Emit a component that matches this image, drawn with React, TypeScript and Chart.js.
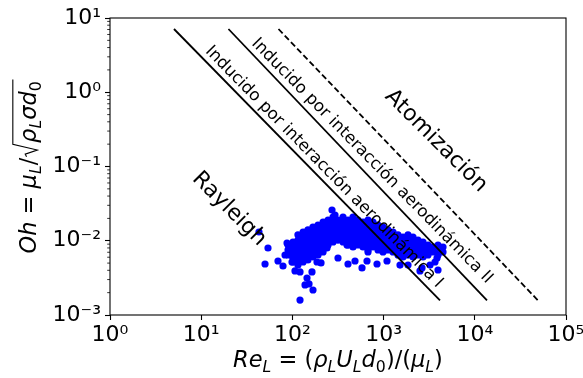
import React, { useEffect, useRef } from "react";
import { Chart, registerables } from "chart.js";

Chart.register(...registerables);

const FONT = '"DejaVu Sans", sans-serif';

// Axis ranges and tick values
const xRange = [1, 100000];
const yRange = [0.001, 10];
const xMajorTicks = [1, 10, 100, 1000, 10000, 100000];
const yMajorTicks = [0.001, 0.01, 0.1, 1, 10];
const yMinorTicks = [
  0.002, 0.003, 0.004, 0.005, 0.006, 0.007, 0.008, 0.009,
  0.02, 0.03, 0.04, 0.05, 0.06, 0.07, 0.08, 0.09,
  0.2, 0.3, 0.4, 0.5, 0.6, 0.7, 0.8, 0.9,
  2, 3, 4, 5, 6, 7, 8, 9,
];

// Regime boundary lines (Re, Oh endpoints)
const boundaryIRe = [5.03, 4153];
const boundaryIOh = [7.11, 0.00157];
const boundaryIIRe = [19.9, 13610];
const boundaryIIOh = [7.11, 0.00157];
const atomizationRe = [70.4, 49320];
const atomizationOh = [7.11, 0.00157];

// Measured droplets: [Re_L, Oh]
const dropletPoints: [number, number][] = [
  // dense core
  [89.5, 0.00876], [89.5, 0.00751], [89.5, 0.00643],
  [101.5, 0.00962], [101.5, 0.00824], [101.5, 0.00706], [101.5, 0.00604], [101.5, 0.00517],
  [115, 0.012], [115, 0.0102], [115, 0.00876], [115, 0.00751], [115, 0.00643], [115, 0.00551], [115, 0.00471],
  [131, 0.0131], [131, 0.0112], [131, 0.00962], [131, 0.00824], [131, 0.00706], [131, 0.00604], [131, 0.00517],
  [148, 0.014], [148, 0.012], [148, 0.0102], [148, 0.00876], [148, 0.00751], [148, 0.00643], [148, 0.00551],
  [168, 0.0153], [168, 0.0131], [168, 0.0112], [168, 0.00962], [168, 0.00824], [168, 0.00706], [168, 0.00604],
  [191, 0.0163], [191, 0.014], [191, 0.012], [191, 0.0102], [191, 0.00876], [191, 0.00751], [191, 0.00643],
  [217, 0.0179], [217, 0.0153], [217, 0.0131], [217, 0.0112], [217, 0.00962], [217, 0.00824], [217, 0.00706],
  [246, 0.019], [246, 0.0163], [246, 0.014], [246, 0.012], [246, 0.0102], [246, 0.00876],
  [279, 0.0209], [279, 0.0179], [279, 0.0153], [279, 0.0131], [279, 0.0112], [279, 0.00962],
  [316, 0.019], [316, 0.0163], [316, 0.014], [316, 0.012], [316, 0.0102],
  [359, 0.0209], [359, 0.0179], [359, 0.0153], [359, 0.0131], [359, 0.0112], [359, 0.00962],
  [407, 0.019], [407, 0.0163], [407, 0.014], [407, 0.012], [407, 0.0102], [407, 0.00876],
  [462, 0.0209], [462, 0.0179], [462, 0.0153], [462, 0.0131], [462, 0.0112], [462, 0.00962], [462, 0.00824],
  [524, 0.019], [524, 0.0163], [524, 0.014], [524, 0.012], [524, 0.0102], [524, 0.00876],
  [595, 0.0179], [595, 0.0153], [595, 0.0131], [595, 0.0112], [595, 0.00962], [595, 0.00824],
  [675, 0.019], [675, 0.0163], [675, 0.014], [675, 0.012], [675, 0.0102], [675, 0.00876], [675, 0.00751],
  [765, 0.0179], [765, 0.0153], [765, 0.0131], [765, 0.0112], [765, 0.00962], [765, 0.00824],
  [868, 0.0163], [868, 0.014], [868, 0.012], [868, 0.0102], [868, 0.00876], [868, 0.00751],
  [985, 0.0153], [985, 0.0131], [985, 0.0112], [985, 0.00962], [985, 0.00824], [985, 0.00706],
  [1117, 0.014], [1117, 0.012], [1117, 0.0102], [1117, 0.00876], [1117, 0.00751],
  [1268, 0.0131], [1268, 0.0112], [1268, 0.00962], [1268, 0.00824], [1268, 0.00706],
  [1439, 0.012], [1439, 0.0102], [1439, 0.00876], [1439, 0.00751], [1439, 0.00643],
  [1632, 0.0112], [1632, 0.00962], [1632, 0.00824], [1632, 0.00706], [1632, 0.00604],
  [1852, 0.012], [1852, 0.0102], [1852, 0.00876], [1852, 0.00751], [1852, 0.00643],
  [2101, 0.0112], [2101, 0.00962], [2101, 0.00824], [2101, 0.00706], [2101, 0.00604],
  [2384, 0.0102], [2384, 0.00876], [2384, 0.00751], [2384, 0.00643],
  [2704, 0.00962], [2704, 0.00824], [2704, 0.00706], [2704, 0.00604],
  [3068, 0.00876], [3068, 0.00751], [3068, 0.00643],
  [3481, 0.00824], [3481, 0.00706],
  [3950, 0.00876], [3950, 0.00751], [3950, 0.00643],
  [4481, 0.00824], [4481, 0.00706],
  // scattered droplets
  [43.0, 0.01312], [54.0, 0.00799], [50.1, 0.00486], [69.5, 0.00534], [78.9, 0.00457],
  [87.3, 0.00932], [83.0, 0.00643], [101.5, 0.00586], [106.8, 0.00392], [121.2, 0.0038],
  [144.6, 0.00315], [137.5, 0.00254], [152.1, 0.00262], [168.2, 0.00217], [121.2, 0.00159],
  [164.0, 0.0038], [205.9, 0.00502], [239.6, 0.00799], [316.2, 0.00586], [407.1, 0.00486],
  [485.8, 0.00534], [579.8, 0.0043], [657.7, 0.00534], [674.5, 0.00706], [846.6, 0.00486],
  [1089.6, 0.00534], [1513, 0.00471], [1852, 0.00471], [2507, 0.00392], [2637, 0.0043],
  [3227, 0.00471], [3661, 0.00517], [3950, 0.00404], [3851, 0.00586], [271.8, 0.02595],
  [293.2, 0.02222], [396.9, 0.00876], [186.1, 0.00517], [99.0, 0.00517],
];

// Regime labels: text, anchor Re, anchor Oh
const regimeLabels = ["Rayleigh", "Inducido por interacción aerodinámica I", "Inducido por interacción aerodinámica II", "Atomización"];
const regimeLabelRe = [20.2, 222, 746, 3755];
const regimeLabelOh = [0.0268, 0.0985, 0.1186, 0.2205];

type Seg = { t?: string; it?: boolean; sub?: boolean; sqrt?: Seg[] };

const xLabelSegs: Seg[] = [
  { t: "Re", it: true }, { t: "L", it: true, sub: true }, { t: " = " }, { t: "(" },
  { t: "ρ", it: true }, { t: "L", it: true, sub: true }, { t: "U", it: true }, { t: "L", it: true, sub: true },
  { t: "d", it: true }, { t: "0", sub: true }, { t: ")/(" }, { t: "μ", it: true }, { t: "L", it: true, sub: true }, { t: ")" },
];
const yLabelSegs: Seg[] = [
  { t: "Oh", it: true }, { t: " = " }, { t: "μ", it: true }, { t: "L", it: true, sub: true }, { t: "/" },
  { sqrt: [{ t: "ρ", it: true }, { t: "L", it: true, sub: true }, { t: "σ", it: true }, { t: "d", it: true }, { t: "0", sub: true }] },
];

const SUP: Record<string, string> = { "0": "⁰", "1": "¹", "2": "²", "3": "³", "4": "⁴", "5": "⁵", "6": "⁶", "7": "⁷", "8": "⁸", "9": "⁹", "-": "⁻" };
function powLabel(v: number): string {
  const e = Math.round(Math.log10(v));
  return "10" + String(e).split("").map((c) => SUP[c]).join("");
}

function segFont(s: Seg, F: number) {
  const size = s.sub ? F * 0.7 : F;
  return `${s.it ? "italic " : ""}${size}px ${FONT}`;
}
function mWidth(ctx: CanvasRenderingContext2D, segs: Seg[], F: number): number {
  let w = 0;
  for (const s of segs) {
    if (s.sqrt) w += F * 0.66 + mWidth(ctx, s.sqrt, F) + F * 0.08;
    else {
      ctx.font = segFont(s, F);
      w += ctx.measureText(s.t || "").width;
    }
  }
  return w;
}
function mDraw(ctx: CanvasRenderingContext2D, segs: Seg[], F: number, x: number, b: number): number {
  for (const s of segs) {
    if (s.sqrt) {
      const inner = mWidth(ctx, s.sqrt, F);
      const xr = x + F * 0.66;
      const xe = xr + inner + F * 0.08;
      ctx.beginPath();
      ctx.moveTo(x + F * 0.04, b - F * 0.42);
      ctx.lineTo(x + F * 0.16, b - F * 0.48);
      ctx.lineTo(x + F * 0.34, b + F * 0.06);
      ctx.lineTo(x + F * 0.6, b - F * 1.03);
      ctx.lineTo(xe, b - F * 1.03);
      ctx.lineWidth = 1.1;
      ctx.strokeStyle = "#000";
      ctx.stroke();
      mDraw(ctx, s.sqrt, F, xr, b);
      x = xe;
    } else {
      ctx.font = segFont(s, F);
      ctx.fillText(s.t || "", x, s.sub ? b + F * 0.22 : b);
      x += ctx.measureText(s.t || "").width;
    }
  }
  return x;
}

const TICK_F = 22;
const LABEL_F = 22.5;

const decoPlugin = {
  id: "deco",
  afterDatasetsDraw(chart: any) {
    const ctx: CanvasRenderingContext2D = chart.ctx;
    const xs = chart.scales.x;
    const ys = chart.scales.y;
    const sizes = [22, 16.7, 16.7, 22];
    const angles = [45, 45.5, 45.5, 45];
    for (let i = 0; i < regimeLabels.length; i++) {
      const px = xs.getPixelForValue(regimeLabelRe[i]);
      const py = ys.getPixelForValue(regimeLabelOh[i]);
      ctx.save();
      ctx.translate(px, py);
      ctx.rotate((angles[i] * Math.PI) / 180);
      ctx.font = `${sizes[i]}px ${FONT}`;
      ctx.fillStyle = "#000";
      ctx.textAlign = "center";
      ctx.textBaseline = "middle";
      ctx.fillText(regimeLabels[i], 0, 0);
      ctx.restore();
    }
  },
  afterDraw(chart: any) {
    const ctx: CanvasRenderingContext2D = chart.ctx;
    const a = chart.chartArea;
    const ys = chart.scales.y;
    ctx.save();
    // spines
    ctx.strokeStyle = "#000";
    ctx.lineWidth = 1.1;
    ctx.strokeRect(a.left, a.top, a.right - a.left, a.bottom - a.top);
    // minor y ticks
    ctx.lineWidth = 0.8;
    for (const v of yMinorTicks) {
      const py = ys.getPixelForValue(v);
      ctx.beginPath();
      ctx.moveTo(a.left - 2.8, py);
      ctx.lineTo(a.left, py);
      ctx.stroke();
    }
    // axis labels
    ctx.fillStyle = "#000";
    ctx.textAlign = "left";
    ctx.textBaseline = "alphabetic";
    const wx = mWidth(ctx, xLabelSegs, LABEL_F);
    mDraw(ctx, xLabelSegs, LABEL_F, (a.left + a.right) / 2 - wx / 2, 367);
    const wy = mWidth(ctx, yLabelSegs, LABEL_F);
    ctx.translate(36, (a.top + a.bottom) / 2);
    ctx.rotate(-Math.PI / 2);
    mDraw(ctx, yLabelSegs, LABEL_F, -wy / 2, 0);
    ctx.restore();
  },
};

function toXY(re: number[], oh: number[]) {
  return re.map((r, i) => ({ x: r, y: oh[i] }));
}

export default function App() {
  const ref = useRef<HTMLCanvasElement | null>(null);
  useEffect(() => {
    const canvas = ref.current;
    if (!canvas) return;
    const lineBase = { showLine: true, pointRadius: 0, borderColor: "#000", borderWidth: 1.8, fill: false };
    const chart = new Chart(canvas, {
      type: "scatter",
      data: {
        datasets: [
          { ...lineBase, label: "I", data: toXY(boundaryIRe, boundaryIOh) },
          { ...lineBase, label: "II", data: toXY(boundaryIIRe, boundaryIIOh) },
          { ...lineBase, label: "Atom", data: toXY(atomizationRe, atomizationOh), borderDash: [6, 3] },
          {
            label: "Gotas",
            data: dropletPoints.map(([x, y]) => ({ x, y })),
            backgroundColor: "#0000ff",
            borderColor: "#0000ff",
            borderWidth: 0,
            pointRadius: 3.6,
            pointBorderWidth: 0,
            showLine: false,
          },
        ],
      } as any,
      options: {
        responsive: false,
        animation: false,
        devicePixelRatio: 1,
        layout: { padding: { top: 18, right: 17, left: 0, bottom: 0 } },
        plugins: { legend: { display: false }, tooltip: { enabled: false } },
        scales: {
          x: {
            type: "logarithmic",
            min: xRange[0],
            max: xRange[1],
            afterBuildTicks: (s: any) => {
              s.ticks = xMajorTicks.map((v) => ({ value: v, major: true }));
            },
            afterFit: (s: any) => {
              s.height = 63;
              s.paddingLeft = 0;
              s.paddingRight = 0;
            },
            ticks: {
              callback: (v: any) => powLabel(Number(v)),
              color: "#000",
              font: { family: FONT, size: TICK_F },
              padding: 2,
              maxRotation: 0,
              minRotation: 0,
              autoSkip: false,
            },
            grid: { display: true, drawOnChartArea: false, drawTicks: true, tickLength: 5, tickWidth: 1.1, tickColor: "#000", color: "#000" },
            border: { display: false },
          },
          y: {
            type: "logarithmic",
            min: yRange[0],
            max: yRange[1],
            afterBuildTicks: (s: any) => {
              s.ticks = yMajorTicks.map((v) => ({ value: v, major: true }));
            },
            afterFit: (s: any) => {
              s.width = 110;
              s.paddingTop = 0;
              s.paddingBottom = 0;
            },
            ticks: {
              callback: (v: any) => powLabel(Number(v)),
              color: "#000",
              font: { family: FONT, size: TICK_F },
              padding: 4,
              autoSkip: false,
            },
            grid: { display: true, drawOnChartArea: false, drawTicks: true, tickLength: 5, tickWidth: 1.1, tickColor: "#000", color: "#000" },
            border: { display: false },
          },
        },
      } as any,
      plugins: [decoPlugin],
    });
    return () => chart.destroy();
  }, []);
  return (
    <div style={{ position: "fixed", left: 0, top: 0, width: 583, height: 378, background: "#fff" }}>
      <canvas ref={ref} width={583} height={378} style={{ display: "block", width: 583, height: 378 }} />
    </div>
  );
}
